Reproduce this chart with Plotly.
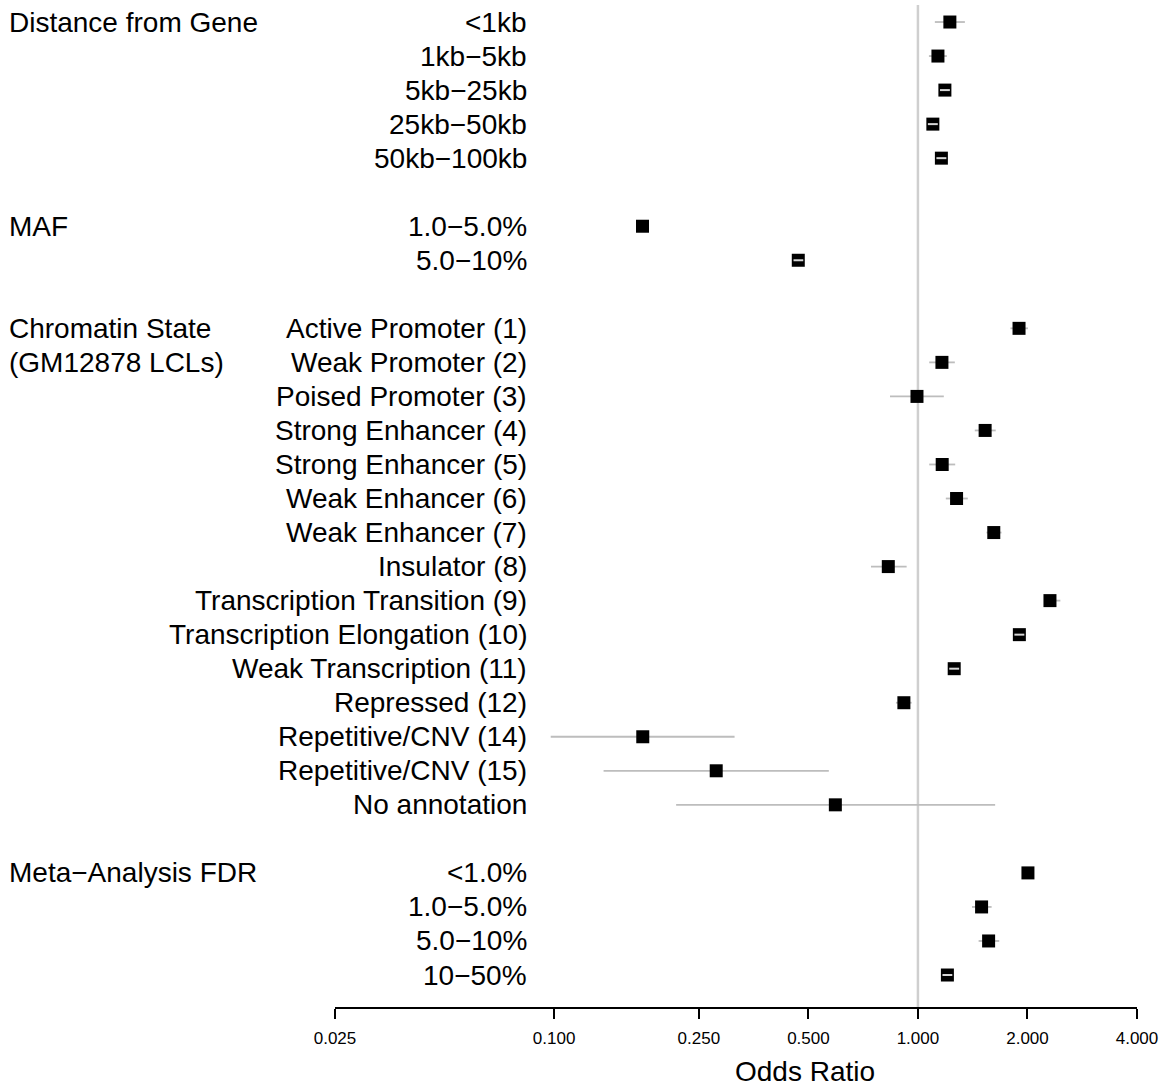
import plotly.graph_objects as go
import math

# ---- data ----
groups = ["Distance from Gene", "MAF", "Chromatin State\n(GM12878 LCLs)", "Meta−Analysis FDR"]

dist_labels = ["<1kb", "1kb−5kb", "5kb−25kb", "25kb−50kb", "50kb−100kb"]
dist_or = [1.224, 1.135, 1.186, 1.099, 1.160]
dist_lo = [1.113, 1.072, 1.150, 1.065, 1.124]
dist_hi = [1.346, 1.201, 1.224, 1.134, 1.197]

maf_labels = ["1.0−5.0%", "5.0−10%"]
maf_or = [0.175, 0.469]
maf_lo = [0.172, 0.455]
maf_hi = [0.178, 0.484]

chrom_labels = ["Active Promoter (1)", "Weak Promoter (2)", "Poised Promoter (3)",
                "Strong Enhancer (4)", "Strong Enhancer (5)", "Weak Enhancer (6)",
                "Weak Enhancer (7)", "Insulator (8)", "Transcription Transition (9)",
                "Transcription Elongation (10)", "Weak Transcription (11)", "Repressed (12)",
                "Repetitive/CNV (14)", "Repetitive/CNV (15)", "No annotation"]
chrom_or = [1.896, 1.164, 0.994, 1.530, 1.166, 1.277, 1.616, 0.829, 2.306, 1.900, 1.258,
            0.915, 0.1753, 0.279, 0.593]
chrom_lo = [1.796, 1.074, 0.838, 1.433, 1.074, 1.193, 1.543, 0.743, 2.225, 1.841, 1.219,
            0.870, 0.0979, 0.1368, 0.2165]
chrom_hi = [2.006, 1.263, 1.178, 1.636, 1.266, 1.371, 1.697, 0.931, 2.463, 1.961, 1.298,
            0.961, 0.3134, 0.569, 1.630]

fdr_labels = ["<1.0%", "1.0−5.0%", "5.0−10%", "10−50%"]
fdr_or = [2.006, 1.496, 1.564, 1.205]
fdr_lo = [1.980, 1.408, 1.468, 1.168]
fdr_hi = [2.030, 1.594, 1.673, 1.243]

tick_vals = [0.025, 0.1, 0.25, 0.5, 1.0, 2.0, 4.0]
tick_text = ["0.025", "0.100", "0.250", "0.500", "1.000", "2.000", "4.000"]

# ---- assemble rows (blank row between groups) ----
sections = [
    (groups[0], dist_labels, dist_or, dist_lo, dist_hi),
    (groups[1], maf_labels, maf_or, maf_lo, maf_hi),
    (groups[2], chrom_labels, chrom_or, chrom_lo, chrom_hi),
    (groups[3], fdr_labels, fdr_or, fdr_lo, fdr_hi),
]
rows_y, rows_lab, rows_or, rows_lo, rows_hi = [], [], [], [], []
group_pos = []
pos = 0
for gname, labs, ors, los, his in sections:
    group_pos.append((gname, pos))
    for l, o, a, b in zip(labs, ors, los, his):
        rows_y.append(pos); rows_lab.append(l); rows_or.append(o); rows_lo.append(a); rows_hi.append(b)
        pos += 1
    pos += 1
n_rows = pos - 1

W_FIG, H_FIG = 1160, 1089
ML, MR, MT, MB = 335, 23, 5, 82
PW = W_FIG - ML - MR
PH = H_FIG - MT - MB
FONT = "Liberation Sans, Arial, Helvetica, sans-serif"

fig = go.Figure()

# CI lines (behind squares)
cx, cy = [], []
for y, a, b in zip(rows_y, rows_lo, rows_hi):
    cx += [a, b, None]; cy += [y, y, None]
fig.add_trace(go.Scatter(x=cx, y=cy, mode="lines", line=dict(color="#bdbdbd", width=1.8),
                         hoverinfo="skip", showlegend=False))

fig.add_trace(go.Scatter(x=rows_or, y=rows_y, mode="markers",
                         marker=dict(symbol="square", size=13, color="black", line=dict(width=0)),
                         showlegend=False))

# narrow CIs visible on top of the squares
tx, ty = [], []
for y, o, a, b in zip(rows_y, rows_or, rows_lo, rows_hi):
    r = max(b / o, o / a)
    if 1.02 < r < 1.042:
        tx += [a, b, None]; ty += [y, y, None]
fig.add_trace(go.Scatter(x=tx, y=ty, mode="lines", line=dict(color="#d6d6d6", width=2),
                         hoverinfo="skip", showlegend=False))

# reference line at OR = 1
fig.add_shape(type="line", x0=1, x1=1, xref="x", y0=0, y1=1, yref="y domain",
              line=dict(color="#cfcfcf", width=2.5), layer="below")

annotations = []
lab_x = (529 - ML) / PW
for y, l in zip(rows_y, rows_lab):
    annotations.append(dict(x=lab_x, y=y, xref="paper", yref="y", text=l, showarrow=False,
                            xanchor="right", yanchor="middle", font=dict(size=28, color="black", family=FONT)))
grp_x = (7 - ML) / PW
for gname, p in group_pos:
    for k, part in enumerate(gname.split("\n")):
        annotations.append(dict(x=grp_x, y=p + k, xref="paper", yref="y", text=part, showarrow=False,
                                xanchor="left", yanchor="middle", font=dict(size=28, color="black", family=FONT)))
annotations.append(dict(x=(805 - ML) / PW, y=-(1071 - (H_FIG - MB)) / PH, xref="paper", yref="paper",
                        text="Odds Ratio", showarrow=False, xanchor="center", yanchor="middle",
                        font=dict(size=28, color="black", family=FONT)))

fig.update_layout(
    width=W_FIG, height=H_FIG,
    margin=dict(l=ML, r=MR, t=MT, b=MB, autoexpand=False),
    paper_bgcolor="white", plot_bgcolor="white",
    annotations=annotations,
    xaxis=dict(type="log", range=[math.log10(0.025), math.log10(4.0)],
               tickvals=tick_vals, ticktext=tick_text, ticks="outside", ticklen=10, tickwidth=2,
               tickcolor="black", showline=True, linecolor="black", linewidth=2,
               showgrid=False, zeroline=False, ticklabelstandoff=5,
               tickfont=dict(size=17, color="black", family=FONT)),
    yaxis=dict(range=[n_rows - 1 + 0.94, -0.5], visible=False, showgrid=False, zeroline=False),
)

fig.write_html("out.html")
